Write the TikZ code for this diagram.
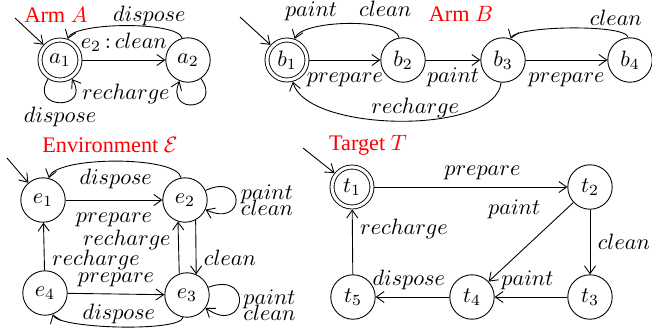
\documentclass[tikz,border=0pt]{standalone}
\usepackage[no-math]{fontspec}
\setmainfont{Liberation Serif}
\usetikzlibrary{arrows.meta}

\begin{document}
\begin{tikzpicture}[x=0.45pt, y=-0.45pt, >={Straight Barb[length=3.5pt,width=5pt]},
  loc/.style={circle, draw, minimum size=20pt, inner sep=0pt},
  accloc/.style={loc, minimum size=18pt, double, double distance=1.4pt, outer sep=1.1pt},
  title/.style={text=red},
  lbl/.style={text height=6.5pt, text depth=1.8pt},
  lp/.style={align=left, inner sep=2pt}]
\useasboundingbox (0,0) rectangle (652,335);

% arm A
\node (tA) [title] at (56,15) {Arm $A$};
\node (a1) [accloc] at (60,60) {$a_1$};
\node (a2) [loc] at (188,60) {$a_2$};
\coordinate (a0) at (15,18);

\draw[->] (a0) -- (a1);
\draw[->] (a1) -- node[above,lbl] {$e_2\,{:}\,clean$} (a2);
\draw[->] (a2) to[out=105,in=70,looseness=0.4] node[above,pos=0.35,inner sep=0pt] {$dispose$} (a1);
\draw[->] (a1) to[out=-122,in=-58,looseness=4] node[below,inner sep=2pt] {$dispose$} (a1);
\draw[->] (a2) to[out=-55,in=-112,looseness=4.5] node[left,pos=0.85] {$recharge$} (a2);

% arm B
\node (tB) [title] at (461,14) {Arm $B$};
\node (b1) [accloc] at (287,60) {$b_1$};
\node (b2) [loc] at (403,60) {$b_2$};
\node (b3) [loc] at (503,60) {$b_3$};
\node (b4) [loc] at (630,60) {$b_4$};
\coordinate (b0) at (240,17);

\draw[->] (b0) -- (b1);
\draw[->] (b1) -- node[below,lbl] {$prepare$} (b2);
\draw[->] (b2) -- node[below,lbl] {$paint$} (b3);
\draw[->] (b3) -- node[below,lbl] {$prepare$} (b4);
\draw[->] (b2) to[out=100,in=70,looseness=0.5] node[above,inner sep=1pt] {$paint\quad clean$} (b1);
\draw[->] (b4) to[out=95,in=70,looseness=0.3] node[above,pos=0.2,inner sep=2.5pt] {$clean$} (b3);
\draw[->] (b3) to[out=-95,in=-75,looseness=0.65] node[above,pos=0.45,inner sep=1pt] {$recharge$} (b1);

% environment
\node (tE) [title] at (110,145) {Environment $\mathcal{E}$};
\node (e1) [loc] at (43,200) {$e_1$};
\node (e2) [loc] at (185,200) {$e_2$};
\node (e3) [loc] at (187,295) {$e_3$};
\node (e4) [loc] at (45,293) {$e_4$};
\coordinate (e0) at (7,158);

\draw[->] (e0) -- (e1);
\draw[->] (e1) -- node[below,lbl] {$prepare$} (e2);
\draw[->] (e2) to[out=100,in=75,looseness=0.44] node[below] {$dispose$} (e1);
\draw[->] (e2.-62) -- node[right,pos=0.7] {$clean$} (e3.66);
\draw[->] (e3.110) -- node[left,pos=0.65] {$recharge$} (e2.-108);
\draw[->] (e4) -- node[right,pos=0.22] {$recharge$} (e1);
\draw[->] (e4) -- node[above,lbl] {$prepare$} (e3);
\draw[->] (e3) to[out=-100,in=-70,looseness=0.3] node[above,inner sep=1pt] {$dispose$} (e4);
\draw[->] (e2) to[out=25,in=-25,looseness=6] node[right,lp] {$paint$\\[-4.5pt]$clean$} (e2);
\draw[->] (e3) to[out=20,in=-35,looseness=6] node[right,lp,pos=0.55] {$paint$\\[-4.5pt]$clean$} (e3);

% target
\node (tT) [title] at (368,145) {Target $T$};
\node (t1) [accloc] at (352,187) {$t_1$};
\node (t2) [loc] at (590,187) {$t_2$};
\node (t3) [loc] at (590,297) {$t_3$};
\node (t4) [loc] at (472,297) {$t_4$};
\node (t5) [loc] at (353,297) {$t_5$};
\coordinate (t0) at (303,148);

\draw[->] (t0) -- (t1);
\draw[->] (t1) -- node[above,lbl,pos=0.56] {$prepare$} (t2);
\draw[->] (t2) -- node[above left,pos=0.3] {$paint$} (t4);
\draw[->] (t2) -- node[right] {$clean$} (t3);
\draw[->] (t3) -- node[above,lbl,pos=0.55] {$paint$} (t4);
\draw[->] (t4) -- node[above,lbl,pos=0.55] {$dispose$} (t5);
\draw[->] (t5) -- node[right,pos=0.7] {$recharge$} (t1);
\end{tikzpicture}
\end{document}
